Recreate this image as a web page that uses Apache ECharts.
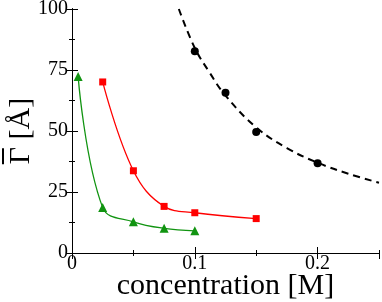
<!DOCTYPE html>
<html><head><meta charset="utf-8">
<script src="https://cdn.jsdelivr.net/npm/echarts@6/dist/echarts.min.js"></script>
<style>html,body{margin:0;padding:0;background:#fff}#c{width:382px;height:302px}</style>
</head><body><div id="c"></div>
<script>
// Data
const greenX = [0.005, 0.025, 0.05, 0.075, 0.1];
const greenY = [72.3, 18.6, 12.8, 10.1, 9.1];
const redX = [0.025, 0.05, 0.075, 0.1, 0.15];
const redY = [70.1, 33.7, 19.1, 16.5, 14.1];
const blackX = [0.1, 0.125, 0.15, 0.2];
const blackY = [82.7, 65.7, 49.6, 36.8];
const fitX = [0.087, 0.1, 0.112, 0.125, 0.15, 0.175, 0.2, 0.225, 0.25];
const fitY = [100, 84, 74, 64.5, 51.5, 43, 37, 32.5, 28.8];
const xTickLabels = ['0', '0.1', '0.2'];
const yTickLabels = ['0', '25', '50', '75', '100'];

const pairs = (xs, ys) => xs.map((x, i) => [x, ys[i]]);
const font = 'Liberation Serif';
const xLab = v => {
  const s = String(Math.round(v * 100) / 100);
  return xTickLabels.includes(s) ? s : '';
};
const yLab = v => {
  const s = String(Math.round(v * 10) / 10);
  return yTickLabels.includes(s) ? s : '';
};
const ax = {color: '#000', width: 1};
function mkX(pos, interval, len, labels) {
  return {
    type: 'value', min: 0, max: 0.25, interval: interval, position: pos,
    axisLine: {show: true, lineStyle: ax},
    axisTick: {show: true, inside: true, length: len, lineStyle: ax},
    splitLine: {show: false},
    axisLabel: labels ? {formatter: xLab, fontFamily: font, fontSize: 20, color: '#000', margin: 1, showMaxLabel: false} : {show: false},
    name: labels ? 'concentration [M]' : '', nameLocation: 'middle', nameGap: 18, nameMoveOverlap: false,
    nameTextStyle: {fontFamily: font, fontSize: 30, color: '#000'}
  };
}
function mkY(pos, interval, len, labels) {
  return {
    type: 'value', min: 0, max: 100, interval: interval, position: pos,
    axisLine: {show: true, lineStyle: ax},
    axisTick: {show: true, inside: true, length: len, lineStyle: ax},
    splitLine: {show: false},
    axisLabel: labels ? {formatter: yLab, fontFamily: font, fontSize: 20, color: '#000', margin: 4} : {show: false},
    name: labels ? '{o| }\n{t|Γ [Å]}' : '', nameLocation: 'middle', nameGap: 36, nameMoveOverlap: false,
    nameTextStyle: {
      fontFamily: font, fontSize: 30, color: '#000',
      rich: {
        o: {fontSize: 2, width: 16, height: 2, lineHeight: 6, align: 'left', backgroundColor: '#000'},
        t: {fontFamily: font, fontSize: 30, lineHeight: 30, color: '#000'}
      }
    }
  };
}
const chart = echarts.init(document.getElementById('c'));
chart.setOption({
  animation: false,
  backgroundColor: '#fff',
  grid: {left: 72, top: 9, right: 3, bottom: 49, outerBoundsMode: 'none', containLabel: false},
  xAxis: [mkX('bottom', 0.1, 6, true), mkX('bottom', 0.05, 3, false), mkX('top', 0.1, 6, false), mkX('top', 0.05, 3, false)],
  yAxis: [mkY('left', 25, 6, true), mkY('left', 12.5, 3, false), mkY('right', 25, 6, false), mkY('right', 12.5, 3, false)],
  series: [{
    type: 'line', data: pairs(fitX, fitY), smooth: 0.4, showSymbol: false,
    lineStyle: {color: '#000', width: 2, type: [7, 5]}, z: 2
  }, {
    type: 'line', data: pairs(blackX, blackY), symbol: 'circle', symbolSize: 8,
    itemStyle: {color: '#000'}, lineStyle: {width: 0, opacity: 0}, z: 3
  }, {
    type: 'line', data: pairs(redX, redY), smooth: 0.4, symbol: 'rect', symbolSize: 7,
    itemStyle: {color: '#ff0000'}, lineStyle: {color: '#ff0000', width: 1.3}, z: 3
  }, {
    type: 'line', data: pairs(greenX, greenY), smooth: 0.4, symbol: 'triangle', symbolSize: 9,
    itemStyle: {color: '#119411'}, lineStyle: {color: '#119411', width: 1.3}, z: 3
  }]
});
</script></body></html>
